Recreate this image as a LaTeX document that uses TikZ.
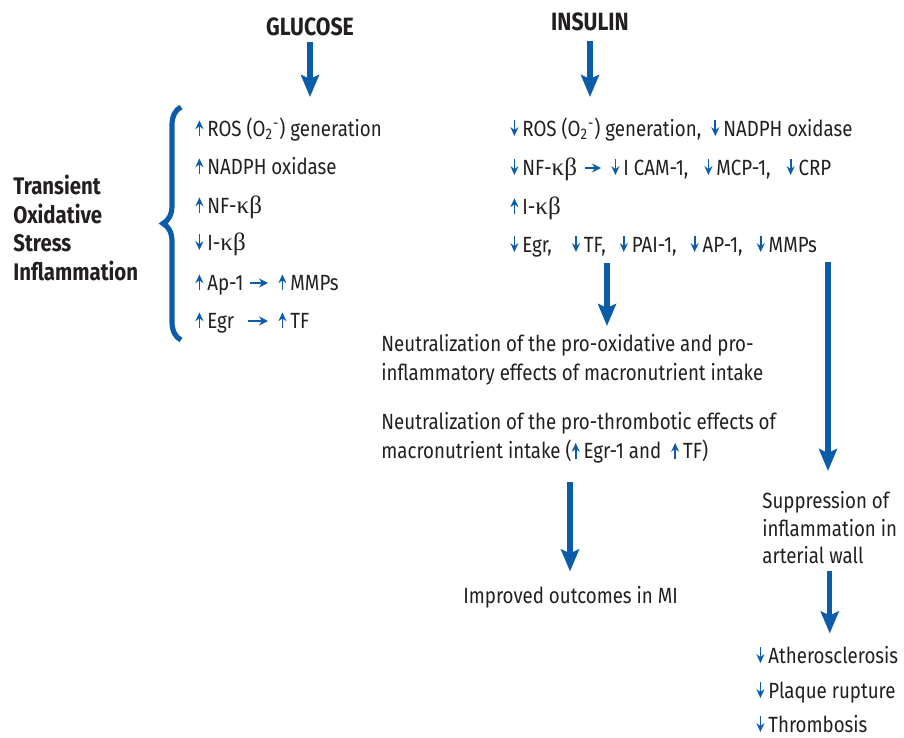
\documentclass[tikz,border=0pt]{standalone}
\usepackage{fontspec}
\setmainfont[FakeStretch=0.85]{Fira Sans}
\newfontfamily\grkfont{Liberation Serif}
\usetikzlibrary{arrows.meta,decorations.pathreplacing}

\definecolor{arrblue}{HTML}{0B5DAA}
\definecolor{ink}{HTML}{231F20}

% small up / down marks inside the text
\newcommand{\upar}{\tikz[baseline=0pt]\draw[arrblue,line width=0.9pt,-{Stealth[length=4.4pt,width=4pt]}] (0,0) -- (0,7.8pt);\hspace{2pt}}
\newcommand{\dnar}{\tikz[baseline=0pt]\draw[arrblue,line width=0.9pt,-{Stealth[length=4.4pt,width=4pt]}] (0,7.8pt) -- (0,0);\hspace{2pt}}
\newcommand{\kb}{{\grkfont\fontsize{12.5}{14}\selectfont κβ}}
\newcommand{\sox}{O\textsubscript{2}\textsuperscript{-}}
\newcommand{\gap}{\hspace{7pt}}

\begin{document}
\begin{tikzpicture}[x=0.5pt, y=-0.5pt,
    every node/.style={text=ink, inner sep=0pt, font=\fontsize{11}{14.5}\selectfont},
    item/.style={anchor=base west},
    para/.style={anchor=north west, align=left},
    title/.style={font=\fontsize{12.5}{14}\selectfont\bfseries},
    bigarrow/.style={arrblue, line width=2.6pt, -{Stealth[length=11pt,width=9pt,inset=2pt]}},
    linkarrow/.style={arrblue, line width=1pt, -{Stealth[length=4.5pt,width=4.5pt]}}]
    \useasboundingbox (0,0) rectangle (904,738);

    % Titles
    \node[title] (glucose) at (310,27) {GLUCOSE};
    \node[title] (insulin) at (590,22) {INSULIN};

    % Glucose side
    \node[item] (rosL) at (195,136) {\upar ROS (\sox) generation};
    \node[item] (nadphL) at (195,174) {\upar NADPH oxidase};
    \node[item] (nfL) at (195,213) {\upar NF-\kb};
    \node[item] (ikbL) at (195,250) {\dnar I-\kb};
    \node[item] (ap1L) at (195,290) {\upar Ap-1};
    \node[item] (mmpL) at (278,290) {\upar MMPs};
    \node[item] (egrL) at (195,328) {\upar Egr};
    \node[item] (tfL) at (278,328) {\upar TF};
    \draw[linkarrow, shorten <=3pt, shorten >=5pt] ([yshift=3.5pt]ap1L.base east) -- ([yshift=3.5pt]mmpL.base west);
    \draw[linkarrow, shorten <=7pt, shorten >=5pt] ([yshift=3.5pt]egrL.base east) -- ([yshift=3.5pt]tfL.base west);

    % Brace and label
    \draw[arrblue, line width=2.6pt, decorate, decoration={brace, amplitude=9pt}] (181,340) -- (181,107);
    \node[anchor=west, align=left, font=\fontsize{12}{14.4}\selectfont\bfseries] (stress) at (13,228)
        {Transient\\Oxidative\\Stress\\Inflammation};

    % Insulin side
    \node[item] (rosR) at (510,136) {\dnar ROS (\sox) generation,\hspace{5pt}\dnar NADPH oxidase};
    \node[item] (nfR) at (510,175) {\dnar NF-\kb};
    \node[item] (camR) at (611,175) {\dnar I CAM-1,\hspace{8pt}\dnar MCP-1,\hspace{8pt}\dnar CRP};
    \node[item] (ikbR) at (510,214) {\upar I-\kb};
    \node[item] (egrR) at (510,252) {\dnar Egr,\hspace{10pt}\dnar TF,\gap\dnar PAI-1,\gap\dnar AP-1,\gap\dnar MMPs};
    \draw[linkarrow, shorten <=4pt, shorten >=5pt] ([yshift=3.5pt]nfR.base east) -- ([yshift=3.5pt]camR.base west);

    % Outcomes
    \node[para] (neutA) at (381,334) {Neutralization of the pro-oxidative and pro-\\inflammatory effects of macronutrient intake};
    \node[para] (neutB) at (381,412) {Neutralization of the pro-thrombotic effects of\\macronutrient intake (\upar Egr-1 and \ \upar TF)};
    \node[item] (mi) at (463,603) {Improved outcomes in MI};
    \node[para, font=\fontsize{11}{13.75}\selectfont] (suppress) at (762,491) {Suppression of\\inflammation in\\arterial wall};
    \node[item] (athero) at (756,663) {\dnar Atherosclerosis};
    \node[item] (plaque) at (756,698) {\dnar Plaque rupture};
    \node[item] (thromb) at (756,732) {\dnar Thrombosis};

    % Big arrows
    \coordinate (splitA) at (607,263);
    \coordinate (splitB) at (828,262);
    \coordinate (splitC) at (570,482);
    \draw[bigarrow, shorten <=3pt, shorten >=10pt] (glucose.south) -- (glucose.south |- rosL.north);
    \draw[bigarrow, shorten <=5pt, shorten >=10pt] (insulin.south) -- (insulin.south |- rosR.north);
    \draw[bigarrow, shorten >=4pt] (splitA) -- (splitA |- neutA.north);
    \draw[bigarrow, shorten >=10pt] (splitB) -- (splitB |- suppress.north);
    \draw[bigarrow, shorten >=7pt] (splitC) -- (splitC |- mi.north);
    \draw[bigarrow, shorten <=3.5pt, shorten >=6pt] (suppress.south) -- (suppress.south |- athero.north);
\end{tikzpicture}
\end{document}
